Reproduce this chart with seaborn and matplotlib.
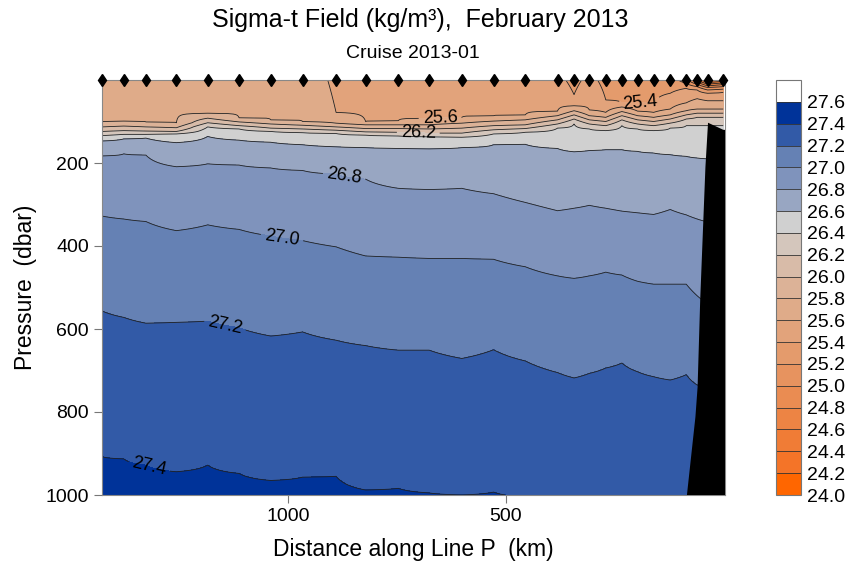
"""Sigma-t section along Line P, February 2013 (cruise 2013-01)."""

import numpy as np
import matplotlib

matplotlib.use("Agg")
import matplotlib.pyplot as plt
import seaborn as sns

# station positions along the line (km from the coast)
STATION_KM = [1427, 1378, 1327, 1257, 1185, 1113, 1040, 967, 890, 822, 747, 676, 601, 528,
              455, 381, 343, 308, 270, 233, 197, 160, 122, 85, 60, 36, 0]

# sigma-t at the surface, per station
SURFACE_SIGMA = [25.72, 25.72, 25.72, 25.72, 25.72, 25.72, 25.72, 25.72, 25.56, 25.52, 25.52,
                 25.52, 25.52, 25.50, 25.48, 25.45, 25.35, 25.45, 25.35, 25.33, 25.32, 25.30,
                 25.30, 25.10, 24.70, 24.15, 24.35]

# depth (dbar) of each isopycnal at each station, None where it outcrops
N = None
ISO_242 = [N] * 25 + [3, N]
ISO_244 = [N] * 25 + [6, 3]
ISO_246 = [N] * 25 + [10, 7]
ISO_248 = [N] * 24 + [5, 14, 11]
ISO_250 = [N] * 24 + [10, 18, 16]
ISO_252 = [N] * 23 + [8, 16, 24, 22]
ISO_254 = [N] * 16 + [35, N, 48, 55, 55, 55, 32, 20, 24, 32, 30]
ISO_256 = [N] * 8 + [78, 100, 98, 92, 90, 86, 84, 75, 62, 72, 78, 65, 75, 78, 70, 55, 45, 50, 50]
ISO_258 = [101, 99, 101, 103, 80, 91, 96, 100, 104, 108, 108, 108, 104, 99, 96, 86, 74, 86, 90,
           76, 86, 90, 84, 74, 70, 70, 70]
ISO_260 = [113, 111, 113, 115, 92, 101, 106, 109, 113, 117, 117, 118, 116, 110, 108, 96, 84, 96,
           100, 86, 96, 100, 94, 84, 80, 80, 80]
ISO_262 = [124, 122, 123, 124, 103, 110, 116, 118, 121, 125, 126, 128, 128, 120, 117, 106, 94,
           106, 110, 96, 106, 110, 104, 94, 90, 90, 90]
ISO_264 = [134, 131, 131, 130, 113, 118, 124, 127, 129, 133, 135, 137, 138, 130, 126, 116, 106,
           118, 122, 110, 118, 122, 116, 110, 110, 110, 110]
ISO_266 = [147, 142, 140, 151, 136, 145, 150, 156, 161, 163, 165, 166, 163, 156, 155, 165, 173,
           170, 168, 168, 172, 176, 180, 184, 188, 190, 190]
ISO_268 = [183, 178, 181, 209, 202, 205, 212, 218, 227, 239, 261, 264, 261, 274, 295, 315, 309,
           302, 309, 316, 320, 324, 312, 325, 335, 342, 345]
ISO_270 = [328, 335, 341, 363, 349, 360, 376, 387, 402, 424, 427, 430, 430, 432, 450, 472, 478,
           472, 463, 470, 485, 492, 492, 492, 520, 540, 540]
ISO_272 = [557, 572, 586, 584, 581, 597, 617, 607, 627, 640, 651, 651, 671, 650, 677, 705, 718,
           707, 694, 682, 703, 715, 723, 710, 735, 740, 740]
ISO_274 = [908, 913, 928, 944, 928, 948, 965, 957, 955, 988, 984, 995, 1000, 993, 1005, 1015,
           1020, 1025, 1030, 1030, 1030, 1030, 1030, 1030, 1030, 1030, 1030]
DEEP_DBAR, DEEP_SIGMA = 1400, 27.5

ISOPYCNALS = [(24.2, ISO_242), (24.4, ISO_244), (24.6, ISO_246), (24.8, ISO_248),
              (25.0, ISO_250), (25.2, ISO_252), (25.4, ISO_254), (25.6, ISO_256),
              (25.8, ISO_258), (26.0, ISO_260), (26.2, ISO_262), (26.4, ISO_264),
              (26.6, ISO_266), (26.8, ISO_268), (27.0, ISO_270), (27.2, ISO_272),
              (27.4, ISO_274)]

# continental slope (km, dbar)
BATHY_KM = [0, 35, 41, 53, 59, 64, 83.5]
BATHY_DBAR = [120, 103, 210, 530, 740, 812, 1000]

BOUNDS = [24.0, 24.2, 24.4, 24.6, 24.8, 25.0, 25.2, 25.4, 25.6, 25.8, 26.0, 26.2, 26.4, 26.6,
          26.8, 27.0, 27.2, 27.4, 27.6, 27.8]
CBAR_TICKS = BOUNDS[:-1]
BAND_COLORS = ["#ff6600", "#f47428", "#f07c36", "#ed8444", "#ea8c52", "#e7935f", "#e49b6c",
               "#e2a37b", "#dfab89", "#dcb297", "#d8bba8", "#d4c6bc", "#d0d0d0", "#98a6c2",
               "#7f93bc", "#6581b4", "#325aa7", "#003399", "#ffffff"]

LABEL_LEVELS = [25.4, 25.6, 26.2, 26.8, 27.0, 27.2, 27.4]
LABEL_POS = [(191, 55), (651, 90), (701, 128), (870, 224), (1014, 378), (1145, 590), (1318, 928)]

sns.set_style("ticks")
plt.rcParams["font.family"] = ["Liberation Sans", "DejaVu Sans"]
plt.rcParams["text.color"] = "black"
plt.rcParams["axes.labelcolor"] = "black"
plt.rcParams["xtick.color"] = "black"
plt.rcParams["ytick.color"] = "black"

depth_grid = np.linspace(0, 1000, 1001)
field = np.empty((depth_grid.size, len(STATION_KM)))
for j in range(len(STATION_KM)):
    z = [0.0]
    s = [SURFACE_SIGMA[j]]
    for level, depths in ISOPYCNALS:
        if depths[j] is not None:
            z.append(depths[j])
            s.append(level)
    z.append(DEEP_DBAR)
    s.append(DEEP_SIGMA)
    field[:, j] = np.interp(depth_grid, z, s)

fig = plt.figure(figsize=(8.49, 5.65), dpi=100)
ax = fig.add_axes([102 / 849, 1 - 495 / 565, 623 / 849, 415 / 565])
cax = fig.add_axes([776 / 849, 1 - 495 / 565, 25 / 849, 415 / 565])

cf = ax.contourf(STATION_KM, depth_grid, field, levels=BOUNDS, colors=BAND_COLORS)
plain_levels = [lv for lv in BOUNDS[1:-1] if lv not in LABEL_LEVELS]
ax.contour(STATION_KM, depth_grid, field, levels=plain_levels, colors="#222222", linewidths=0.6)
cs = ax.contour(STATION_KM, depth_grid, field, levels=LABEL_LEVELS, colors="#222222",
                linewidths=0.6)
ax.clabel(cs, manual=LABEL_POS, fmt="%.1f", fontsize=13, inline=True, inline_spacing=4,
          colors="black")

poly_x = BATHY_KM + [-20, -20]
poly_y = BATHY_DBAR + [1020, 121]
ax.fill(poly_x, poly_y, color="black", zorder=3, lw=0)

ax.plot(STATION_KM, np.zeros(len(STATION_KM)), linestyle="none", marker="d", color="black",
        markersize=6.5, clip_on=False, zorder=5)

ax.set_xlim(1428, -4)
ax.set_ylim(1000, 0)
ax.set_xticks([1000, 500])
ax.set_yticks([200, 400, 600, 800, 1000])
ax.tick_params(direction="out", length=6, width=0.8, color="#777777", labelcolor="black",
               labelsize=14)
for sp in ax.spines.values():
    sp.set_color("#888888")
    sp.set_linewidth(0.8)
ax.set_xlabel("Distance along Line P  (km)", fontsize=16.5, labelpad=9)
ax.set_ylabel("Pressure  (dbar)", fontsize=16.5, labelpad=6)

fig.text(420 / 849, 1 - 20 / 565, "Sigma-t Field (kg/m³),  February 2013", ha="center",
         va="center", fontsize=18)
fig.text(413 / 849, 1 - 54 / 565, "Cruise 2013-01", ha="center", va="center", fontsize=14)

cb = fig.colorbar(cf, cax=cax, ticks=CBAR_TICKS, drawedges=True)
cb.ax.set_yticklabels([f"{t:.1f}" for t in CBAR_TICKS])
cb.ax.tick_params(length=0, labelsize=14, pad=4, labelcolor="black")
cb.outline.set_edgecolor("#777777")
cb.outline.set_linewidth(0.8)
cb.dividers.set_color("#333333")
cb.dividers.set_linewidth(0.6)

fig.savefig("out.png", dpi=100)
